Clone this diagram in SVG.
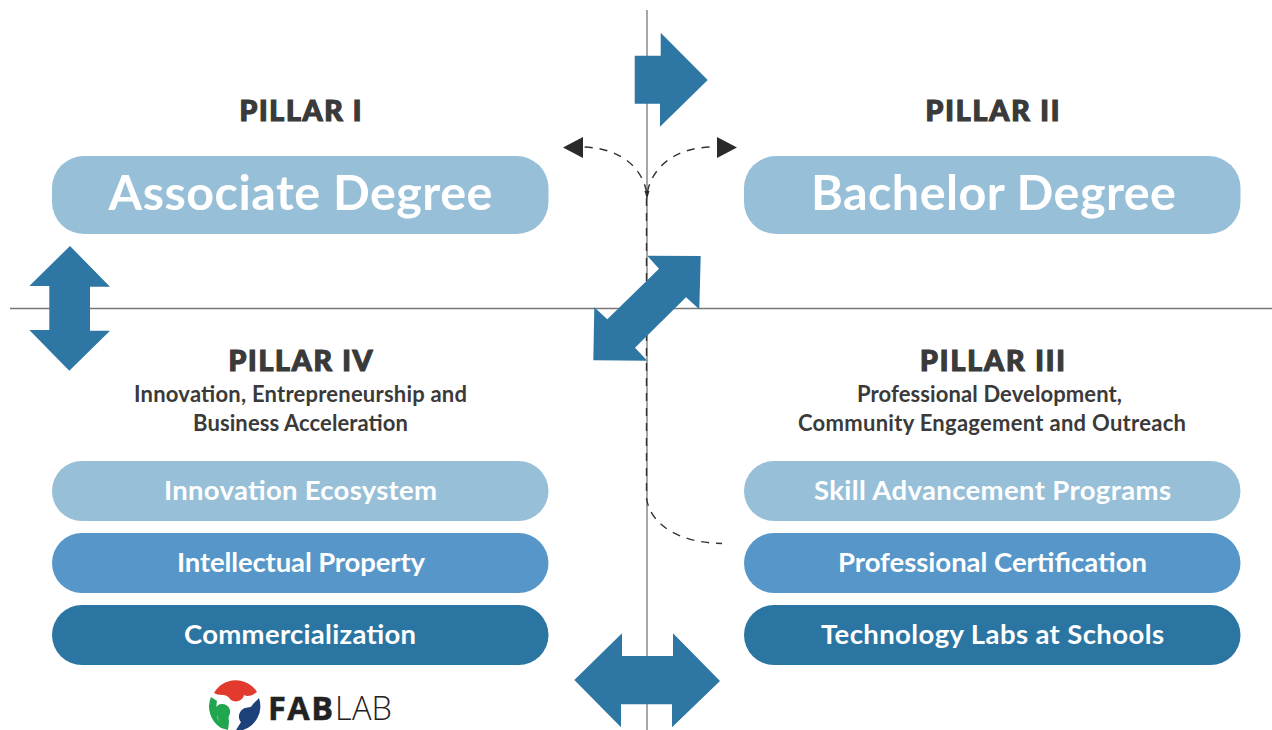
<svg xmlns="http://www.w3.org/2000/svg" width="1272" height="730" viewBox="0 0 1272 730">
<style>
.axis{stroke:#777;stroke-width:1.3;fill:none}
.arrow{fill:#2e77a4}
.dash{stroke:#333;stroke-width:1.4;fill:none;stroke-dasharray:8 7}
.head{fill:#2b2a2b}
.light{fill:#97bfd8}
.mid{fill:#5696c8}
.dark{fill:#2b75a2}
text{font-family:"Lato","Open Sans","Liberation Sans",sans-serif;text-anchor:middle}
.big{fill:#fff;font-size:48.500px;font-weight:700}
.item{fill:#fff;font-size:27.500px;font-weight:700}
.pillar{fill:#3a3a3a;font-size:28.500px;font-weight:900;stroke:#3a3a3a;stroke-width:1.200}
.sub{fill:#3a3a3a;font-size:22px;font-weight:700}
.logo{font-family:"Open Sans","Liberation Sans",sans-serif;font-size:32.500px;fill:#222;text-anchor:start}
</style>
<rect width="1272" height="730" fill="#fff"/>
<g id="connectors">
<path class="axis" d="M647 10V730"/>
<path class="axis" d="M10 308.500H1272"/>
<path class="dash" d="M646.500 192C643 172 625 148 583 147"/>
<path class="dash" d="M647.500 192C651 172 670 148 711 147"/>
<path class="dash" d="M646.500 198V498C650 525 680 543 722 543.500"/>
<path class="head" d="M583 137V158L563 147.500Z"/>
<path class="head" d="M717 137V158L737 147.500Z"/>
<path class="head" d="M644.500 191H649.500L647 199Z"/>
<path class="arrow" id="arrow-right" d="M634.700 55.700H660.700V32.700L707.700 80L660 126.700V103.700H634.700Z"/>
<path class="arrow" id="arrow-vertical" d="M70 246L110 286.700H90V330.700H110L69.300 370.700L29.300 330H49.300V286H29.300Z"/>
<path class="arrow" id="arrow-diagonal" d="M647.300 255.700L700.700 256L699.300 309.300L686 297.300L635 347.700L647.300 360.700L593.300 360.300L594.300 307.300L607.300 319.300L659 268.700Z"/>
<path class="arrow" id="arrow-horizontal" d="M574.300 680L622 633.300V656H673V633.300L720 681L672 727.300V704.300H621V727.300Z"/>
</g>
<g id="pillar-1"><text class="pillar" x="300.500" y="120.500" textLength="122">PILLAR I</text></g>
<g id="pillar-2"><text class="pillar" x="992.500" y="120.500" textLength="134">PILLAR II</text></g>
<g id="pillar-4"><text class="pillar" x="300.500" y="370.500" textLength="144">PILLAR IV</text>
<text class="sub" x="300.500" y="402" textLength="333">Innovation, Entrepreneurship and</text>
<text class="sub" x="300.500" y="431" textLength="215">Business Acceleration</text></g>
<g id="pillar-3"><text class="pillar" x="992.500" y="370.500" textLength="145">PILLAR III</text>
<text class="sub" x="989.500" y="402" textLength="265">Professional Development,</text>
<text class="sub" x="992" y="431" textLength="388">Community Engagement and Outreach</text></g>
<g id="associate"><rect class="light" x="52" y="156" width="496.500" height="78" rx="32"/><text class="big" x="300.500" y="209.500" textLength="384">Associate Degree</text></g>
<g id="bachelor"><rect class="light" x="744" y="156" width="496.500" height="78" rx="32"/><text class="big" x="993.500" y="209.500" textLength="365">Bachelor Degree</text></g>
<g id="innovation"><rect class="light" x="52" y="461" width="496.500" height="60" rx="30"/><text class="item" x="300.500" y="499.500" textLength="273">Innovation Ecosystem</text></g>
<g id="ip"><rect class="mid" x="52" y="533" width="496.500" height="60" rx="30"/><text class="item" x="301" y="571.500" textLength="248">Intellectual Property</text></g>
<g id="commercial"><rect class="dark" x="52" y="605" width="496.500" height="60" rx="30"/><text class="item" x="300" y="643.500" textLength="232">Commercialization</text></g>
<g id="skill"><rect class="light" x="744" y="461" width="496.500" height="60" rx="30"/><text class="item" x="992.500" y="499.500" textLength="357">Skill Advancement Programs</text></g>
<g id="cert"><rect class="mid" x="744" y="533" width="496.500" height="60" rx="30"/><text class="item" x="992.500" y="571.500" textLength="309">Professional Certification</text></g>
<g id="labs"><rect class="dark" x="744" y="605" width="496.500" height="60" rx="30"/><text class="item" x="992.500" y="643.500" textLength="343">Technology Labs at Schools</text></g>
<g id="fablab">
<path d="M214 693A25 25 0 0 1 257 692C252 696 247 697 244 695C243 701 235 703 231 700C228 696 226 695 222 695C219 695 216 694 214 693Z" fill="#e23b2e"/>
<path d="M211 697A25 25 0 0 0 221 728L228 730L229 722C229 719 228 718 229 716C232 711 229 704 222 704C216 704 214 710 217 715L219 722C216 716 216 706 217 701Z" fill="#1fa64f"/>
<path d="M259 698A25 25 0 0 1 243 730L236 730L241 722C237 718 239 710 245 708C249 707 251 708 253 704Z" fill="#1d4279"/>
<text class="logo" x="268" y="720" font-weight="700" textLength="65" stroke="#222" stroke-width=".5">FAB</text>
<text class="logo" x="335" y="720" font-weight="300" textLength="57">LAB</text>
</g>
</svg>
